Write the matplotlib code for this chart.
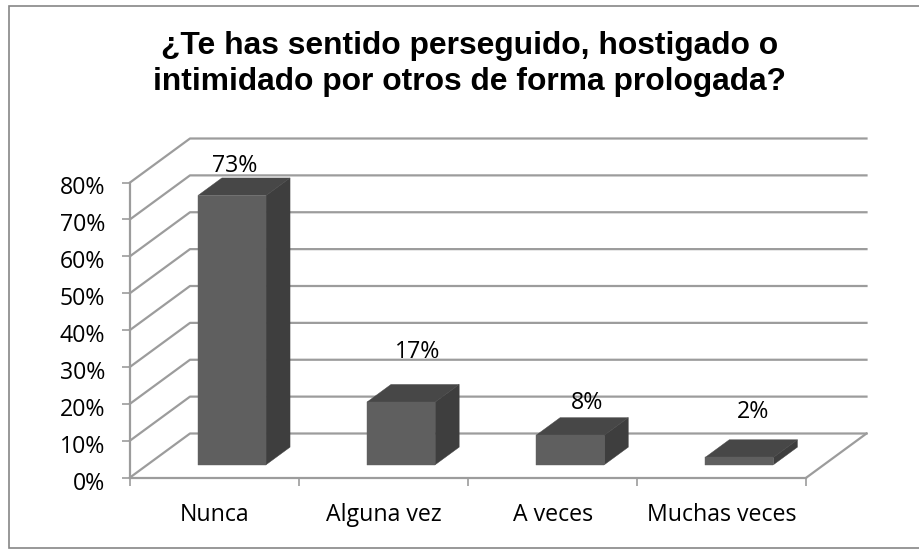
import matplotlib
matplotlib.use('Agg')
import matplotlib.pyplot as plt
from matplotlib.patches import Rectangle, Polygon
from matplotlib.transforms import ScaledTranslation

categories = ['Nunca', 'Alguna vez', 'A veces', 'Muchas veces']
values = [73, 17, 8, 2]
value_labels = ['73%', '17%', '8%', '2%']
y_ticks = [0, 10, 20, 30, 40, 50, 60, 70, 80]
y_tick_labels = ['0%', '10%', '20%', '30%', '40%', '50%', '60%', '70%', '80%']

title = '¿Te has sentido perseguido, hostigado o\nintimidado por otros de forma prologada?'

W, H = 920, 550
# plot box of the front plane, in pixels
left, right, top, bottom = 130.0, 806.5, 182.5, 477.5

grid_c = '#9c9c9c'
front_c = '#5f5f5f'
top_c = '#474747'
side_c = '#3e3e3e'
font = 'Open Sans'

fig = plt.figure(figsize=(W / 100, H / 100), dpi=100)
# chart frame, its right side runs off the picture
fig.patches.append(Rectangle((8.5 / W, 1 - 548 / H), (930 - 8.5) / W, (548 - 5.5) / H, transform=fig.transFigure,
                             facecolor='white', edgecolor='#868686', linewidth=1.2, zorder=-1))

ax = fig.add_axes([left / W, 1 - bottom / H, (right - left) / W, (bottom - top) / H])
ax.set_xlim(0, 4)
ax.set_ylim(0, 80)
ax.patch.set_alpha(0)

# depth of the box, in data units
depth_x = 60 / ((right - left) / 4)
depth_y = 80 * 44 / (bottom - top)


def proj(x, y, d):
    return (x + depth_x * d, y + depth_y * d)


# floor, walls, gridlines
for v in y_ticks:
    ax.plot(*zip(proj(0, v, 0), proj(0, v, 1), proj(4, v, 1)), color=grid_c, lw=1.6, clip_on=False, zorder=1)
ax.plot(*zip(proj(4, 0, 0), proj(4, 0, 1)), color=grid_c, lw=1.6, clip_on=False, zorder=1)

# bars
bar_w = 0.403
d0, d1 = 0.29, 0.69
for i, v in enumerate(values):
    x0 = i + 0.5 - bar_w / 2
    x1 = i + 0.5 + bar_w / 2
    ax.add_patch(Polygon([proj(x1, 0, d0), proj(x1, 0, d1), proj(x1, v, d1), proj(x1, v, d0)],
                         facecolor=side_c, edgecolor=side_c, lw=0.3, clip_on=False, zorder=3))
    ax.add_patch(Polygon([proj(x0, v, d0), proj(x1, v, d0), proj(x1, v, d1), proj(x0, v, d1)],
                         facecolor=top_c, edgecolor=top_c, lw=0.3, clip_on=False, zorder=3))
    ax.add_patch(Polygon([proj(x0, 0, d0), proj(x1, 0, d0), proj(x1, v, d0), proj(x0, v, d0)],
                         facecolor=front_c, edgecolor=front_c, lw=0.3, clip_on=False, zorder=4))

# data labels, nudged by hand like the original
label_nudge = [(3, 30), (17, 50), (17, 32), (14, 45)]
for i, v in enumerate(values):
    ax.annotate(value_labels[i], proj(i + 0.5, v, 0.29), xytext=(label_nudge[i][0] * 0.72, label_nudge[i][1] * 0.72),
                textcoords='offset points', ha='center', va='center', fontsize=16.7, family=font, color='black',
                zorder=6, annotation_clip=False)

for s in ['top', 'right']:
    ax.spines[s].set_visible(False)
for s in ['left', 'bottom']:
    ax.spines[s].set_color(grid_c)
    ax.spines[s].set_linewidth(1.6)
    ax.spines[s].set_zorder(2)

ax.set_yticks(y_ticks)
ax.set_yticklabels(y_tick_labels, fontsize=16.7, family=font)
ax.tick_params(axis='y', length=6, width=1.2, color=grid_c, pad=12)
# labels sit a little below their ticks
shift = ScaledTranslation(0, -3 / 100, fig.dpi_scale_trans)
for lab in ax.get_yticklabels():
    lab.set_transform(lab.get_transform() + shift)

ax.set_xticks([0, 1, 2, 3, 4])
ax.set_xticklabels([])
ax.tick_params(axis='x', which='major', length=6, width=1.2, color=grid_c)
ax.set_xticks([0.5, 1.5, 2.5, 3.5], minor=True)
ax.set_xticklabels(categories, minor=True, fontsize=16.7, family=font)
ax.tick_params(axis='x', which='minor', length=0, pad=18.5)

fig.text(469.5 / W, 1 - 64 / H, title, ha='center', va='center', fontsize=22.9, fontweight='bold',
         family='Liberation Sans', linespacing=1.24)

fig.savefig('out.png', dpi=100)
